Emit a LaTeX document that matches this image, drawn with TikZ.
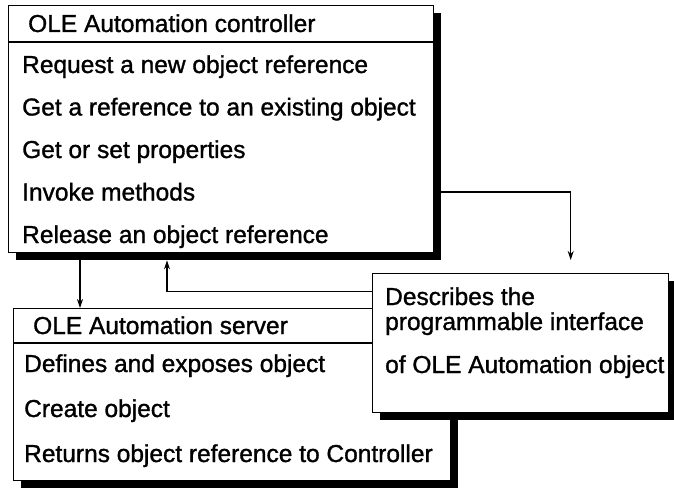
\documentclass[tikz,border=0pt]{standalone}
\usepackage{fontspec}
\setmainfont{Liberation Sans}[FakeBold=1.2]
\usetikzlibrary{shadows,arrows.meta}

\tikzset{
  cadre/.style = {draw, line width=1.4pt, fill=white, anchor=north west, inner sep=0pt,
    drop shadow = {shadow xshift=7pt, shadow yshift=-7pt, fill=black, opacity=1}},
  ligne/.style = {anchor=base west, inner sep=0pt, font=\fontsize{24.5}{28}\selectfont},
  fleche/.style = {line width=1.3pt, -{Stealth[length=9pt, width=6pt]}}
}

\begin{document}
\begin{tikzpicture}[x=1pt, y=-1pt]
  \useasboundingbox (0,0) rectangle (674,489);

  % Les cadres
  \node[cadre, minimum width=425pt, minimum height=247pt] (ctrl) at (8,5) {};
  \draw[line width=1.4pt] (ctrl.west |- 0,42) -- (ctrl.east |- 0,42);
  \node[cadre, minimum width=437pt, minimum height=172pt] (srv) at (13,308) {};
  \draw[line width=1.4pt] (srv.west |- 0,343) -- (srv.east |- 0,343);
  \node[cadre, minimum width=296pt, minimum height=139pt] (desc) at (372,273) {};

  % Le controleur
  \node[ligne] (ctrlnom) at (28,32) {OLE Automation controller};
  \node[ligne] (req) at (22,73) {Request a new object reference};
  \node[ligne] (get) at (22,115.5) {Get a reference to an existing object};
  \node[ligne] (prop) at (22,158) {Get or set properties};
  \node[ligne] (meth) at (22,200.5) {Invoke methods};
  \node[ligne] (rel) at (22,243) {Release an object reference};

  % Le serveur
  \node[ligne] (srvnom) at (33,334) {OLE Automation server};
  \node[ligne] (def) at (24,372) {Defines and exposes object};
  \node[ligne] (cre) at (24,417) {Create object};
  \node[ligne] (ret) at (24,462) {Returns object reference to Controller};

  % La description
  \node[ligne] (desc1) at (385,305) {Describes the};
  \node[ligne] (desc2) at (385,330) {programmable interface};
  \node[ligne] (desc3) at (385,373) {of OLE Automation object};

  % Les fleches
  \coordinate (bas) at ([xshift=72pt]ctrl.south west);
  \draw[fleche] (bas) -- (bas |- srv.north);
  \draw[fleche, shorten >=7pt] ([yshift=51.5pt]desc.west) -| ([xshift=159pt]ctrl.south west);
  \draw[fleche, shorten >=13pt] ([yshift=-187pt]ctrl.north east) -| ([xshift=50pt]desc.north);

\end{tikzpicture}
\end{document}
